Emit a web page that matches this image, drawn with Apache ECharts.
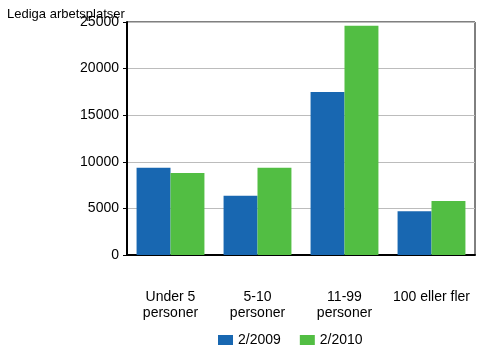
<!DOCTYPE html>
<html>
<head>
<meta charset="utf-8">
<script src="https://cdn.jsdelivr.net/npm/echarts@6/dist/echarts.min.js"></script>
<style>
  html, body { margin: 0; padding: 0; background: #fff; }
  #chart { width: 500px; height: 350px; }
</style>
</head>
<body>
<div id="chart"></div>
<script>
// Categories (company size) and vacancies per period
const categories = ['Under 5\npersoner', '5-10\npersoner', '11-99\npersoner', '100 eller fler'];
const seriesNames = ['2/2009', '2/2010'];
const values2009 = [9350, 6350, 17500, 4700];
const values2010 = [8800, 9350, 24600, 5800];
const yTicks = { min: 0, max: 25000, interval: 5000 };

const font = 'Liberation Sans, Arial, sans-serif';
const chart = echarts.init(document.getElementById('chart'), null, { renderer: 'canvas' });

chart.setOption({
  animation: false,
  backgroundColor: '#ffffff',
  textStyle: { fontFamily: font },
  title: {
    text: 'Lediga arbetsplatser',
    left: 2,
    top: 3,
    textStyle: { fontFamily: font, fontSize: 13, fontWeight: 'normal', color: '#000' }
  },
  grid: {
    left: 127, right: 25, top: 22, bottom: 95,
    show: true, borderColor: '#000', borderWidth: 1
  },
  legend: {
    left: 213,
    top: 328,
    itemWidth: 15,
    itemHeight: 10,
    itemGap: 19,
    icon: 'rect',
    textStyle: { fontFamily: font, fontSize: 14, color: '#000', padding: [0, 0, 0, 0] },
    data: seriesNames
  },
  xAxis: {
    type: 'category',
    data: categories,
    axisLine: { lineStyle: { color: '#000', width: 2 } },
    axisTick: { show: false },
    axisLabel: {
      margin: 34,
      fontFamily: font, fontSize: 14, color: '#000', lineHeight: 16,
      interval: 0
    }
  },
  yAxis: {
    type: 'value',
    min: yTicks.min, max: yTicks.max, interval: yTicks.interval,
    axisLine: { show: true, lineStyle: { color: '#000', width: 2 } },
    axisTick: { show: true, length: 4, lineStyle: { color: '#000', width: 1 } },
    axisLabel: {
      margin: 8, fontFamily: font, fontSize: 14, color: '#000',
      formatter: (v) => String(v)
    },
    splitLine: { lineStyle: { color: '#bcbcbc', width: 1 } }
  },
  series: [
    {
      name: seriesNames[0],
      type: 'bar',
      data: values2009,
      itemStyle: { color: '#1867b1' },
      barGap: '0%',
      barCategoryGap: '22%'
    },
    {
      name: seriesNames[1],
      type: 'bar',
      data: values2010,
      itemStyle: { color: '#52be43' },
      barGap: '0%',
      barCategoryGap: '22%'
    }
  ]
});
</script>
</body>
</html>
